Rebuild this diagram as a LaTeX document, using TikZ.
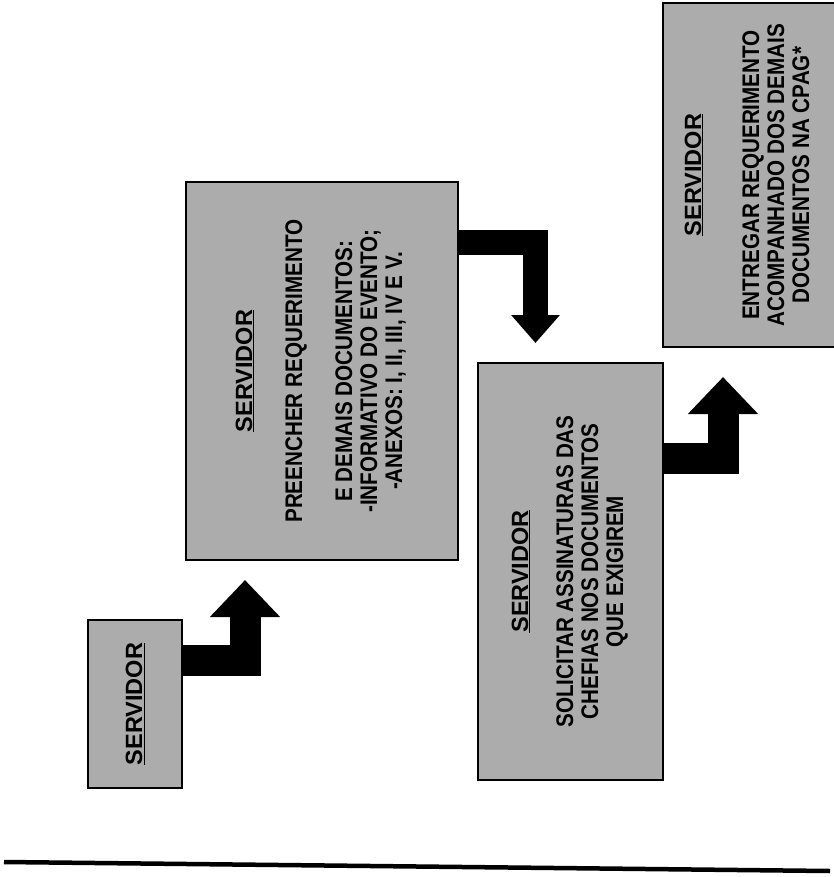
\documentclass[tikz,border=0pt]{standalone}
\usepackage{fontspec}
\setmainfont{Liberation Sans}
\newfontfamily\narrowsans[FakeStretch=0.86]{Liberation Sans}
\usepackage{tikz}
\usetikzlibrary{positioning, arrows.meta, calc}
\definecolor{boxgray}{RGB}{172,172,172}
\newcommand{\hdr}[1]{{\normalfont\bfseries\fontsize{23.5}{25}\selectfont\underline{#1}}}
\tikzset{
  stepbox/.style={draw=black, line width=1.2pt, fill=boxgray, inner sep=0pt,
                  font=\narrowsans\bfseries\fontsize{24}{25}\selectfont},
  bigarrow/.style={line width=31pt, line join=miter, -{Triangle[width=68pt,length=37pt]}},
}

\begin{document}
\begin{tikzpicture}[x=1pt, y=-1pt]
  \useasboundingbox (0,0) rectangle (833,877);

  % steps
  \node[stepbox, minimum width=94pt, minimum height=168pt] (start) at (135,704)
    {\rotatebox{90}{\hdr{SERVIDOR}}};
  \node[stepbox, minimum width=272pt, minimum height=378pt] (fillform) at (322,371)
    {\rotatebox{90}{\begin{tabular}{@{}c@{}}
      \hdr{SERVIDOR}\\[25pt]
      PREENCHER REQUERIMENTO\\[25pt]
      E DEMAIS DOCUMENTOS:\\
      -INFORMATIVO DO EVENTO;\\
      -ANEXOS: I, II, III, IV E V.
    \end{tabular}}};
  \node[stepbox, minimum width=185pt, minimum height=417pt] (sign) at (570.5,571.5)
    {\rotatebox{90}{\begin{tabular}{@{}c@{}}
      \hdr{SERVIDOR}\\[20pt]
      SOLICITAR ASSINATURAS DAS\\
      CHEFIAS NOS DOCUMENTOS\\
      QUE EXIGIREM
    \end{tabular}}};
  \node[stepbox, minimum width=174pt, minimum height=344pt] (deliver) at (750,175)
    {\rotatebox{90}{\begin{tabular}{@{}c@{}}
      \hdr{SERVIDOR}\\[33pt]
      ENTREGAR REQUERIMENTO\\
      ACOMPANHADO DOS DEMAIS\\
      DOCUMENTOS NA CPAG*
    \end{tabular}}};

  % elbow arrows
  \coordinate (tip1) at (245,580);
  \coordinate (tip2) at (535.5,343);
  \coordinate (tip3) at (723,377);
  \draw[bigarrow] (start.east |- 0,660) -| (tip1);
  \draw[bigarrow, line width=25pt, -{Triangle[width=47pt,length=28pt]}]
    (fillform.east |- 0,242.5) -| (tip2);
  \draw[bigarrow] (sign.east |- 0,458.5) -| (tip3);

  % rule at the foot
  \draw[line width=4.5pt] (4,862) -- (830,871);
\end{tikzpicture}
\end{document}
